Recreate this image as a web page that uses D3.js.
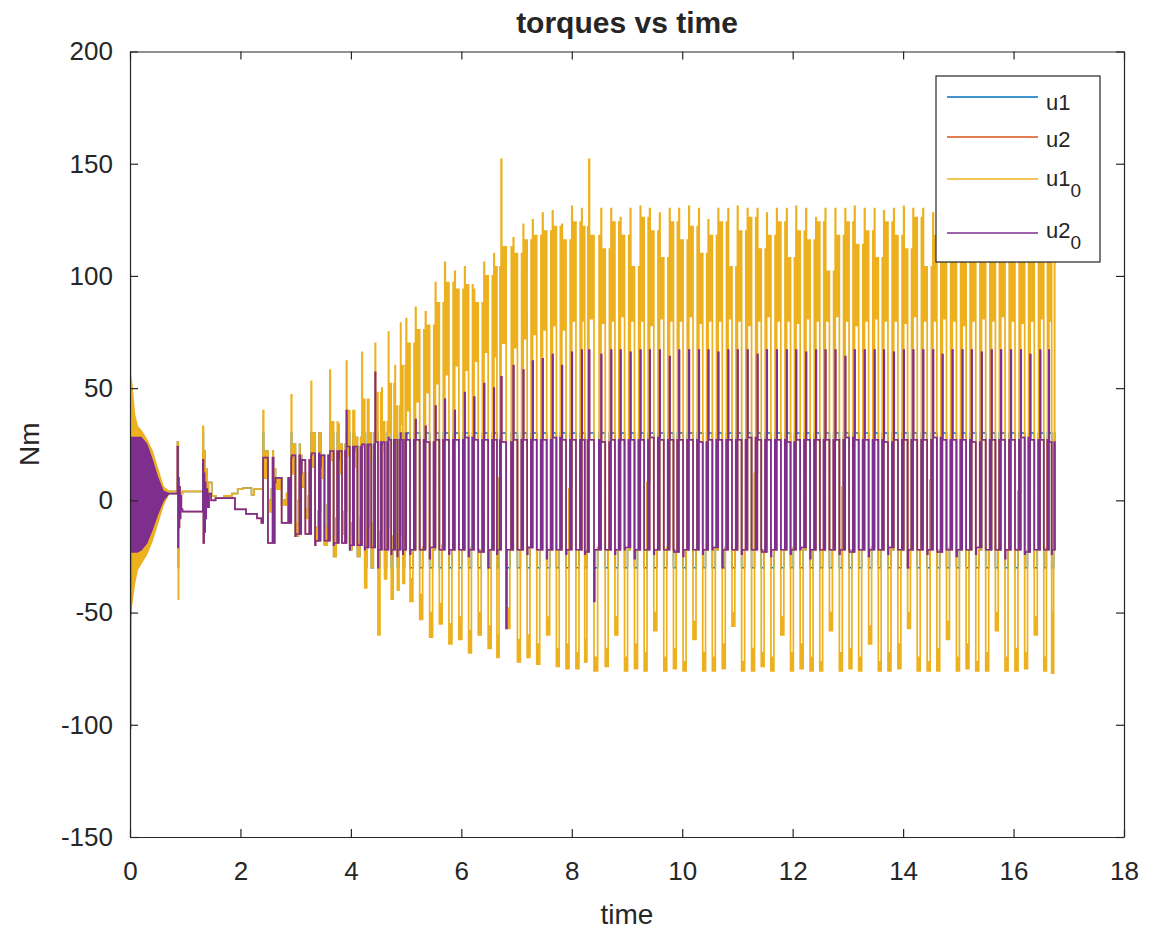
<!DOCTYPE html>
<html>
<head>
<meta charset="utf-8">
<script src="https://cdn.jsdelivr.net/npm/d3@7"></script>
<style>
body { margin: 0; background: #fff; }
text { font-family: "Liberation Sans", Arial, sans-serif; fill: #262626; }
</style>
</head>
<body>
<svg id="chart" width="1149" height="935"></svg>
<script>

// ---- axes ----
var xTicks = [0, 2, 4, 6, 8, 10, 12, 14, 16, 18];
var yTicks = [-150, -100, -50, 0, 50, 100, 150, 200];
var seriesNames = ["u1", "u2", "u1_0", "u2_0"];
var seriesColors = ["#0072BD", "#D95319", "#EDB120", "#7E2F8E"];

// ---- start-up: fast oscillation, read as upper / lower envelopes ----
var envT      = [0.00, 0.03, 0.08, 0.13, 0.20, 0.30, 0.40, 0.50, 0.60, 0.70];
var u1_0EnvHi = [57, 52, 38, 33, 31, 27, 22, 14, 6, 4];
var u1_0EnvLo = [-52, -46, -37, -31, -28, -24, -18, -10, -2, 3];
var u2_0EnvHi = [28, 28, 28, 28, 28, 25, 18, 10, 4, 3];
var u2_0EnvLo = [-23, -23, -23, -23, -22, -19, -13, -6, 0, 3];
var kickT = [0, 0];
var u1_0Kick = [101, -52];
var u2_0Kick = [-102, 28];

// ---- quiet part, 0.7 s .. 2.41 s ----
var u1_0QuietT = [0.70, 0.86, 0.86, 0.87, 0.875, 0.88, 0.89, 0.90, 0.95, 1.32, 1.32, 1.33, 1.34, 1.35, 1.36, 1.37, 1.39, 1.42, 1.48, 1.55, 1.70, 1.85, 1.95, 2.05, 2.15, 2.20, 2.25, 2.35, 2.41];
var u1_0QuietV = [4, 4, 26, 26, -44, 10, 6, 3, 4, 4, 33, 20, 8, 22, 6, 14, 3, 8, 2, 1, 2, 3, 5, 5.5, 5.5, 2.5, 5, 5, 5];
var u2_0QuietT = [0.70, 0.86, 0.86, 0.87, 0.875, 0.885, 0.895, 0.905, 0.915, 0.93, 0.95, 1.32, 1.32, 1.33, 1.34, 1.35, 1.36, 1.37, 1.38, 1.40, 1.43, 1.47, 1.55, 1.90, 2.10, 2.30, 2.38, 2.41];
var u2_0QuietV = [3, 3, 24, -21, 10, -12, 6, -8, 2, -4, -5, -5, 18, -19, 12, -14, 8, -8, 5, -3, 3, 0, 1, -4, -6, -8, -10, -10];

// ---- switching part: one entry per switching cycle ----
var cycT = [2.41, 2.62, 2.92, 3.10, 3.28, 3.45, 3.62, 3.78, 3.92, 4.06, 4.20, 4.32, 4.44, 4.56, 4.68, 4.80, 4.90,
  5.00, 5.17, 5.35, 5.53, 5.70, 5.88, 6.06, 6.23, 6.41, 6.59, 6.72, 6.94, 7.12, 7.29, 7.47, 7.65, 7.82,
  8.00, 8.18, 8.31, 8.53, 8.71, 8.88, 9.06, 9.24, 9.41, 9.59, 9.77, 9.94, 10.12, 10.30, 10.47, 10.65, 10.83,
  11.00, 11.18, 11.36, 11.53, 11.71, 11.89, 12.06, 12.24, 12.42, 12.59, 12.77, 12.95, 13.12, 13.30, 13.48, 13.65, 13.83,
  14.01, 14.18, 14.36, 14.54, 14.71, 14.89, 15.07, 15.24, 15.42, 15.60, 15.77, 15.95, 16.13, 16.30, 16.48, 16.64];
var tEnd = 16.76;

var u1Hi = [40, 14, 47, 20, 53, 30, 58, 34, 62, 40, 66, 45, 70, 50, 75, 60, 79,
  81, 86, 84, 97, 106, 102, 104, 94, 106, 110, 152, 117, 123, 125, 128, 129, 123,
  131, 130, 152, 130, 130, 126, 130, 131, 130, 128, 130, 130, 131, 130, 125, 130, 130,
  131, 130, 130, 128, 130, 130, 131, 130, 126, 130, 130, 130, 131, 130, 130, 129, 130,
  131, 130, 130, 128, 130, 130, 131, 130, 130, 127, 130, 130, 131, 130, 128, 116];
var u1Step = [22, 10, 25, 12, 30, 20, 35, 25, 40, 28, 45, 30, 48, 35, 52, 42, 60,
  70, 76, 78, 88, 97, 94, 96, 88, 100, 104, 113, 110, 116, 118, 120, 122, 116,
  124, 122, 118, 112, 124, 118, 104, 126, 120, 108, 124, 116, 122, 110, 118, 124, 104,
  120, 126, 112, 118, 124, 108, 120, 116, 124, 102, 118, 124, 114, 120, 108, 124, 118,
  112, 126, 104, 118, 122, 110, 124, 116, 106, 122, 118, 112, 124, 108, 120, 106];
var u1Mid = [10, 5, 12, 6, 15, 10, 18, 12, 20, 15, 24, 18, 26, 22, 30, 26, 34,
  40, 44, 48, 52, 56, 60, 58, 62, 66, 64, 70, 68, 72, 74, 76, 78, 76,
  80, 80, 81, 79, 80, 82, 80, 80, 78, 81, 80, 80, 82, 79, 80, 80, 81,
  80, 78, 80, 82, 80, 80, 79, 81, 80, 80, 82, 80, 78, 80, 81, 80, 80,
  79, 82, 80, 80, 81, 80, 78, 80, 81, 80, 82, 80, 79, 80, 81, 80];
var u1Lo = [-5, -2, -16, -8, -18, -20, -25, -15, -22, -25, -39, -30, -60, -35, -44, -40, -37,
  -45, -53, -61, -55, -64, -62, -68, -60, -66, -70, -57, -72, -70, -73, -60, -74, -75,
  -75, -72, -76, -74, -60, -76, -75, -76, -58, -76, -75, -76, -62, -76, -76, -75, -56,
  -76, -76, -74, -76, -60, -76, -75, -76, -76, -58, -76, -75, -76, -64, -76, -76, -75,
  -57, -76, -76, -76, -62, -76, -75, -76, -76, -58, -76, -76, -75, -60, -76, -77];
var u1LoStep = [0, 0, -10, -4, -12, -12, -16, -10, -16, -18, -25, -20, -30, -25, -30, -28, -28,
  -35, -42, -50, -46, -55, -52, -58, -50, -56, -60, -48, -62, -60, -64, -52, -66, -64,
  -68, -62, -70, -66, -52, -70, -64, -68, -50, -70, -66, -72, -54, -68, -70, -64, -50,
  -72, -66, -68, -70, -52, -68, -64, -70, -72, -50, -68, -66, -70, -56, -72, -68, -64,
  -50, -70, -72, -66, -54, -70, -64, -72, -68, -50, -70, -66, -68, -52, -70, -50];
var u1Rest = [5, 3, 0, 2, -5, -2, -8, -5, -10, -8, -12, -10, -14, -12, -16, -15, -18,
  -22, -21, -22, -20, -22, -22, -21, -22, -22, 10, -22, -22, -21, -22, -22, -22, 5,
  -22, -22, -21, -22, -22, -22, -22, 8, -22, -21, -22, -22, -22, -22, -22, -21, -22,
  -22, 12, -22, -22, -22, -21, -22, -22, -22, -22, 6, -22, -22, -21, -22, -22, -22,
  -22, -22, 9, -22, -21, -22, -22, -22, -22, -22, -22, 4, -22, -22, -21, -22];

var u2Pk = [19, 8, 19, 12, 20, 15, 22, 18, 40, 22, 25, 24, 57, 25, 28, 27, 30,
  30, 36, 33, 42, 45, 40, 48, 46, 52, 50, 55, 60, 58, 62, 63, 65, 60,
  66, 67, 67, 65, 67, 67, 66, 67, 67, 67, 64, 67, 67, 67, 67, 66, 67,
  67, 67, 65, 67, 67, 67, 67, 66, 67, 67, 67, 64, 67, 67, 67, 67, 66,
  67, 67, 67, 67, 65, 67, 67, 67, 66, 67, 67, 67, 67, 65, 67, 67];
var u2Top = [19, 10, 20, 18, 21, 20, 22, 22, 24, 24, 25, 25, 26, 26, 27, 27, 27,
  27, 27, 26, 27, 27, 27, 28, 27, 27, 27, 26, 27, 27, 27, 27, 28, 27,
  27, 27, 27, 26, 27, 27, 27, 27, 28, 27, 27, 27, 27, 26, 27, 27, 27,
  27, 28, 27, 27, 27, 26, 27, 27, 27, 27, 27, 28, 27, 27, 27, 26, 27,
  27, 27, 27, 28, 27, 27, 27, 26, 27, 27, 27, 27, 28, 27, 27, 26];
var u2Dip = [-19, -10, -16, -15, -20, -18, -20, -19, -22, -20, -22, -21, -30, -22, -24, -25, -24,
  -24, -22, -26, -22, -24, -22, -25, -22, -30, -24, -57, -22, -24, -22, -26, -22, -24,
  -22, -24, -45, -22, -24, -22, -26, -22, -24, -22, -22, -25, -22, -24, -22, -30, -22,
  -24, -22, -22, -25, -22, -24, -22, -26, -22, -22, -24, -22, -22, -25, -22, -24, -22,
  -30, -22, -24, -22, -22, -25, -22, -24, -22, -22, -26, -22, -24, -22, -22, -24];
var u2Bot = [-19, -10, -15, -15, -18, -18, -19, -19, -20, -20, -21, -21, -22, -22, -22, -22, -22,
  -22, -22, -21, -22, -22, -22, -22, -23, -22, -22, -22, -22, -21, -22, -22, -22, -22,
  -22, -23, -22, -22, -22, -21, -22, -22, -22, -22, -23, -22, -22, -22, -21, -22, -22,
  -22, -22, -23, -22, -22, -22, -21, -22, -22, -22, -22, -23, -22, -22, -22, -21, -22,
  -22, -22, -22, -23, -22, -22, -22, -21, -22, -22, -22, -22, -23, -22, -22, -22];

var satLimit = 30; // u1 is u1_0 clipped at the actuator limit

// ---- layout ----
var x = d3.scaleLinear().domain([0, 18]).range([130, 1124]);
var y = d3.scaleLinear().domain([-150, 200]).range([837, 51.5]);

var svg = d3.select("#chart");
svg.append("rect").attr("width", 1149).attr("height", 935).attr("fill", "#fff");

svg.append("defs").append("clipPath").attr("id", "clip")
  .append("rect")
  .attr("x", x(0)).attr("y", y(200))
  .attr("width", x(18) - x(0)).attr("height", y(-150) - y(200));

// build step-wise point lists
var u1_0Pts = [], u2_0Pts = [];
u1_0QuietT.forEach(function(t, i) { u1_0Pts.push([t, u1_0QuietV[i]]); });
u2_0QuietT.forEach(function(t, i) { u2_0Pts.push([t, u2_0QuietV[i]]); });

cycT.forEach(function(t0, k) {
  var d = (k < cycT.length - 1 ? cycT[k + 1] : tEnd) - t0;
  function p(f, v) { u1_0Pts.push([t0 + f * d, v]); }
  function q(f, v) { u2_0Pts.push([t0 + f * d, v]); }

  // upper block: peak, then chattering between step and mid
  p(0, u1Hi[k]);
  p(0.05, u1Step[k]);
  [0.10, 0.15, 0.20, 0.25, 0.30, 0.35].forEach(function(f, j) {
    p(f, j % 2 === 0 ? u1Mid[k] : u1Step[k]);
  });
  // lower block
  p(0.42, u1Lo[k]);
  [0.46, 0.50, 0.54, 0.58, 0.62, 0.66].forEach(function(f, j) {
    p(f, j % 2 === 0 ? u1LoStep[k] : u1Lo[k]);
  });
  p(0.72, u1Rest[k]);
  // thin kick before the next cycle
  p(0.84, u1Step[k]);
  p(0.88, u1Rest[k]);

  q(0.00, u2Pk[k]);
  q(0.05, u2Top[k]);
  q(0.42, u2Dip[k]);
  q(0.47, u2Bot[k]);
  q(0.82, u2Top[k]);
  q(0.90, u2Bot[k]);
});
u1_0Pts.push([tEnd, u1Rest[u1Rest.length - 1]]);
u2_0Pts.push([tEnd, u2Bot[u2Bot.length - 1]]);

var u1Pts = u1_0Pts.map(function(d) { return [d[0], Math.max(-satLimit, Math.min(satLimit, d[1]))]; });
var u2Pts = u2_0Pts;

var line = d3.line()
  .x(function(d) { return x(d[0]); })
  .y(function(d) { return y(d[1]); })
  .curve(d3.curveStepAfter);

var plain = d3.line()
  .x(function(d) { return x(d[0]); })
  .y(function(d) { return y(d[1]); });

function envArea(hi, lo) {
  return d3.area()
    .x(function(d, i) { return x(envT[i]); })
    .y0(function(d, i) { return y(lo[i]); })
    .y1(function(d, i) { return y(hi[i]); })(envT);
}

var g = svg.append("g").attr("clip-path", "url(#clip)");
var lwBack = 1.5, lw = 1.7;

g.append("path").attr("d", line(u1Pts)).attr("fill", "none")
  .attr("stroke", seriesColors[0]).attr("stroke-width", lwBack);
g.append("path").attr("d", line(u2Pts)).attr("fill", "none")
  .attr("stroke", seriesColors[1]).attr("stroke-width", lwBack);

g.append("path").attr("d", envArea(u1_0EnvHi, u1_0EnvLo))
  .attr("fill", seriesColors[2]).attr("stroke", seriesColors[2]).attr("stroke-width", lw);
g.append("path").attr("d", plain(kickT.map(function(t, i) { return [t, u1_0Kick[i]]; })))
  .attr("fill", "none").attr("stroke", seriesColors[2]).attr("stroke-width", lw + 1);
g.append("path").attr("d", line(u1_0Pts)).attr("fill", "none")
  .attr("stroke", seriesColors[2]).attr("stroke-width", lw);

g.append("path").attr("d", envArea(u2_0EnvHi, u2_0EnvLo))
  .attr("fill", seriesColors[3]).attr("stroke", seriesColors[3]).attr("stroke-width", lw);
g.append("path").attr("d", plain(kickT.map(function(t, i) { return [t, u2_0Kick[i]]; })))
  .attr("fill", "none").attr("stroke", seriesColors[3]).attr("stroke-width", lw + 1);
g.append("path").attr("d", line(u2_0Pts)).attr("fill", "none")
  .attr("stroke", seriesColors[3]).attr("stroke-width", lw);

// ---- axes (box with inward ticks) ----
var axisColor = "#262626";
function styleAxis(sel) {
  sel.selectAll("path.domain").attr("stroke", axisColor).attr("stroke-width", 1.2);
  sel.selectAll(".tick line").attr("stroke", axisColor).attr("stroke-width", 1.2);
  sel.selectAll(".tick text").attr("fill", axisColor)
    .style("font-family", "'Liberation Sans', Arial, sans-serif").style("font-size", "26px");
}
var fmt = function(d) { return String(d); };

svg.append("g").attr("transform", "translate(0," + y(-150) + ")")
  .call(d3.axisBottom(x).tickValues(xTicks).tickFormat(fmt).tickSizeInner(-8).tickSizeOuter(0).tickPadding(25))
  .call(styleAxis);
svg.append("g").attr("transform", "translate(0," + y(200) + ")")
  .call(d3.axisTop(x).tickValues(xTicks).tickSizeInner(-8).tickSizeOuter(0).tickFormat(""))
  .call(styleAxis);
svg.append("g").attr("transform", "translate(" + x(0) + ",0)")
  .call(d3.axisLeft(y).tickValues(yTicks).tickFormat(fmt).tickSizeInner(-8).tickSizeOuter(0).tickPadding(17))
  .call(styleAxis);
svg.append("g").attr("transform", "translate(" + x(18) + ",0)")
  .call(d3.axisRight(y).tickValues(yTicks).tickSizeInner(-8).tickSizeOuter(0).tickFormat(""))
  .call(styleAxis);

// ---- titles ----
svg.append("text").attr("x", (x(0) + x(18)) / 2).attr("y", 33)
  .attr("text-anchor", "middle").style("font-size", "30px").style("font-weight", "bold")
  .text("torques vs time");
svg.append("text").attr("x", (x(0) + x(18)) / 2).attr("y", 924)
  .attr("text-anchor", "middle").style("font-size", "28px").text("time");
svg.append("text").attr("transform", "translate(39," + ((y(200) + y(-150)) / 2) + ") rotate(-90)")
  .attr("text-anchor", "middle").style("font-size", "28px").text("Nm");

// ---- legend ----
var legendLineY = [97, 137, 179, 233];
var legendBase = [110, 147, 186, 238];
var legendMain = ["u1", "u2", "u1", "u2"];
var legendSub = ["", "", "0", "0"];

var lg = svg.append("g");
lg.append("rect").attr("x", 936).attr("y", 76).attr("width", 164).attr("height", 186)
  .attr("fill", "#fff").attr("stroke", axisColor).attr("stroke-width", 1.2);
seriesNames.forEach(function(name, i) {
  lg.append("line").attr("x1", 947).attr("x2", 1038)
    .attr("y1", legendLineY[i]).attr("y2", legendLineY[i])
    .attr("stroke", seriesColors[i]).attr("stroke-width", 1.5);
  var t = lg.append("text").attr("x", 1046).attr("y", legendBase[i]).style("font-size", "22px");
  t.append("tspan").text(legendMain[i]);
  if (legendSub[i]) {
    t.append("tspan").attr("dy", 11).style("font-size", "19px").text(legendSub[i]);
  }
});
</script>
</body>
</html>
